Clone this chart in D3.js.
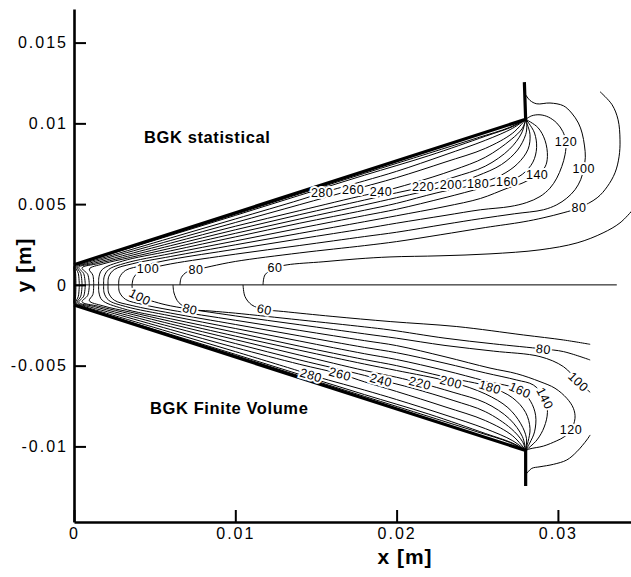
<!DOCTYPE html>
<html>
<head>
<meta charset="utf-8">
<script src="https://cdn.jsdelivr.net/npm/d3@7"></script>
<style>
  body { margin: 0; background: #fff; }
  svg { display: block; }
  text { font-family: "Liberation Sans", Arial, Helvetica, sans-serif; fill: #000; }
</style>
</head>
<body>
<div id="chart"></div>
<script>
// Оси (в метрах)
const xTicks = [0, 0.01, 0.02, 0.03];
const yTicks = [-0.01, -0.005, 0, 0.005, 0.01, 0.015];
const xMinor = d3.range(0, 0.0345, 0.002);
const yMinor = d3.range(-0.014, 0.0175, 0.001);

// Геометрия сопла (мм)
const upperWall = [[0, 1.25], [28, 10.25], [27.92, 12.55]];
const lowerWall = [[0, -1.25], [28, -10.25], [28, -12.45]];
const centerLine = [[0, 0], [33.65, 0]];

// Изолинии температуры, верх: BGK statistical (мм)
const upperLines = [
  [320, [[0.04,0],[0.03,0.7],[0.02,1.18],[0.5,1.4],[2,1.855],[6,3.12],[10,4.37],[14,5.64],[18,6.9],[22,8.15],[25,9.1],[27,9.75],[28,10.25]]],
  [300, [[0.12,0],[0.1,0.7],[0.05,1.15],[0.6,1.39],[2,1.83],[6,3.07],[10,4.3],[14,5.55],[18,6.79],[22,8.0],[25.5,9.2],[27.2,9.8],[28,10.25]]],
  [280, [[0.33,0],[0.27,0.7],[0.12,1.12],[0.8,1.38],[2,1.73],[6,2.91],[10,4.08],[14,5.26],[15.38,5.7],[18,6.44],[20,7.03],[23,8.05],[25.5,8.95],[27.2,9.7],[28,10.25]]],
  [260, [[0.5,0],[0.42,0.7],[0.2,1.1],[1.0,1.36],[2.5,1.78],[6,2.75],[10,3.86],[14,4.97],[17.3,5.89],[20,6.64],[23,7.6],[25.5,8.45],[27.2,9.4],[28,10.25]]],
  [240, [[0.7,0],[0.6,0.7],[0.3,1.08],[1.2,1.33],[3,1.8],[6,2.59],[10,3.63],[14,4.6],[18,5.55],[19.03,5.76],[21,6.3],[23.5,7.1],[25.5,7.9],[27.1,9.0],[27.8,9.7],[28,10.25]]],
  [220, [[0.95,0],[0.85,0.65],[0.5,1.05],[1.5,1.32],[3,1.69],[6,2.43],[10,3.41],[14,4.35],[18,5.25],[20,5.7],[21.64,6.07],[23.5,6.65],[25.5,7.35],[27,8.4],[27.75,9.4],[28,10.25]]],
  [200, [[1.22,0],[1.17,0.6],[0.95,0.98],[1.8,1.3],[3.5,1.7],[6,2.27],[10,3.19],[14,4.08],[18,4.95],[20,5.4],[23.37,6.2],[25,6.75],[26.5,7.45],[27.5,8.35],[28.0,9.3],[28.07,9.85],[28,10.25]]],
  [180, [[1.53,0],[1.55,0.5],[1.75,0.95],[3,1.47],[6,2.11],[10,2.97],[14,3.82],[18,4.62],[20,5.05],[22.5,5.7],[25.05,6.26],[26.5,6.8],[27.5,7.5],[28.15,8.4],[28.27,9.3],[28.1,9.95],[28,10.25]]],
  [160, [[1.84,0],[1.87,0.5],[2.15,0.95],[3.2,1.35],[6,1.94],[10,2.72],[14,3.51],[18,4.29],[20,4.68],[23,5.4],[25.3,6.0],[26.85,6.38],[27.8,6.85],[28.45,7.6],[28.68,8.5],[28.55,9.4],[28.2,10.0],[28,10.25]]],
  [140, [[2.11,0],[2.15,0.5],[2.5,0.95],[3.6,1.3],[6,1.76],[10,2.48],[14,3.19],[18,3.91],[20,4.28],[23,4.85],[25.2,5.35],[26.85,5.98],[27.84,6.32],[28.71,6.82],[29.2,7.3],[29.35,7.95],[29.2,8.95],[28.75,9.75],[28,10.25]]],
  [120, [[2.77,0],[2.82,0.45],[3.2,0.9],[4.3,1.2],[6,1.57],[10,2.21],[14,2.85],[18,3.48],[20,3.82],[23,4.3],[25.2,4.65],[27.03,4.85],[28.07,5.1],[28.89,5.47],[29.51,5.99],[29.93,6.61],[30.24,7.33],[30.44,8.05],[30.5,8.86],[30.3,9.5],[29.93,10.02],[29.41,10.39],[28.89,10.53],[28.38,10.47],[28,10.25]]],
  [100, [[3.6,0],[3.7,0.45],[4.1,0.85],[4.59,0.99],[6,1.3],[10,1.9],[14,2.44],[18,2.99],[20,3.26],[23,3.75],[25.2,4.1],[27.3,4.4],[29.1,4.65],[29.93,4.96],[30.55,5.37],[31.06,5.89],[31.41,6.51],[31.6,7.19],[31.7,7.9],[31.65,8.6],[31.5,9.4],[31.27,10.02],[30.85,10.64],[30.34,11.09],[29.51,11.26],[28.69,11.21],[28.27,11.42],[28.0,11.77]]],
  [80, [[6.57,0],[6.65,0.45],[7.0,0.8],[7.56,0.93],[8.5,1.15],[10,1.45],[14,1.98],[18,2.43],[20,2.68],[22.7,3.1],[25.5,3.55],[27.84,3.9],[29.08,4.15],[30.32,4.46],[31.31,4.77],[32.43,5.39],[33.05,6.07],[33.54,6.94],[33.79,7.93],[33.85,8.98],[33.73,10.22],[33.36,11.15],[32.61,11.96]]],
  [60, [[11.72,0],[11.84,0.62],[12.46,1.05],[13.21,1.24],[15.44,1.43],[17.55,1.61],[19.59,1.73],[22.69,1.8],[25.79,1.92],[28.89,2.17],[31.19,2.6],[32.8,3.22],[33.85,3.84],[34.6,4.6]]]
];

// Изолинии температуры, низ: BGK Finite Volume (мм)
const lowerLines = [
  [320, [[0.04,0],[0.03,-0.7],[0.02,-1.18],[0.5,-1.4],[2,-1.855],[6,-3.12],[10,-4.37],[14,-5.64],[18,-6.9],[22,-8.15],[25,-9.1],[27,-9.75],[28,-10.25]]],
  [300, [[0.12,0],[0.1,-0.7],[0.05,-1.15],[0.6,-1.39],[2,-1.83],[6,-3.07],[10,-4.3],[14,-5.55],[18,-6.79],[22,-8.0],[25.5,-9.2],[27.2,-9.8],[28,-10.25]]],
  [280, [[0.33,0],[0.27,-0.7],[0.12,-1.12],[0.8,-1.39],[2,-1.75],[6,-2.94],[10,-4.13],[14,-5.35],[14.69,-5.58],[18,-6.51],[20,-7.1],[23,-8.05],[25.5,-8.9],[27.2,-9.65],[28,-10.25]]],
  [260, [[0.5,0],[0.42,-0.7],[0.2,-1.1],[1.0,-1.37],[2.5,-1.78],[6,-2.77],[10,-3.88],[14,-4.92],[16.49,-5.51],[18,-6.0],[20,-6.6],[23,-7.55],[25.5,-8.4],[27.2,-9.35],[28,-10.25]]],
  [240, [[0.7,0],[0.6,-0.7],[0.3,-1.08],[1.2,-1.33],[3,-1.8],[6,-2.59],[10,-3.63],[14,-4.65],[18,-5.6],[19.03,-5.89],[21,-6.4],[23.5,-7.15],[25.5,-7.85],[27.1,-8.9],[27.8,-9.7],[28,-10.25]]],
  [220, [[0.95,0],[0.85,-0.65],[0.5,-1.05],[1.5,-1.32],[3,-1.68],[6,-2.42],[10,-3.39],[14,-4.35],[18,-5.3],[20,-5.72],[21.45,-6.07],[23.5,-6.65],[25.5,-7.3],[27,-8.3],[27.8,-9.4],[28,-10.25]]],
  [200, [[1.22,0],[1.17,-0.6],[0.95,-0.98],[1.8,-1.3],[3.5,-1.69],[6,-2.26],[10,-3.17],[14,-4.05],[18,-4.9],[20,-5.3],[23.37,-6.01],[25.5,-6.75],[26.9,-7.6],[27.7,-8.6],[28.05,-9.5],[28,-10.25]]],
  [180, [[1.53,0],[1.55,-0.5],[1.75,-0.95],[3,-1.46],[6,-2.1],[10,-2.94],[14,-3.8],[18,-4.62],[20,-5.0],[23,-5.7],[25.79,-6.32],[27.2,-7.0],[28.0,-7.9],[28.27,-8.9],[28.15,-9.7],[28,-10.25]]],
  [160, [[1.84,0],[1.87,-0.5],[2.15,-0.95],[3.2,-1.34],[6,-1.92],[10,-2.7],[14,-3.48],[18,-4.26],[20,-4.62],[23,-5.3],[25.5,-5.95],[27.65,-6.51],[28.3,-7.2],[28.62,-8.1],[28.55,-9.1],[28.25,-9.8],[28,-10.25]]],
  [140, [[2.11,0],[2.15,-0.5],[2.5,-0.95],[3.6,-1.28],[6,-1.75],[10,-2.45],[14,-3.16],[18,-3.87],[20,-4.2],[23,-4.85],[25.5,-5.45],[27.45,-5.89],[28.48,-6.2],[29.2,-7.02],[29.35,-7.9],[29.15,-8.8],[28.7,-9.6],[28,-10.25]]],
  [120, [[2.77,0],[2.82,-0.45],[3.2,-0.9],[4.3,-1.22],[6,-1.56],[10,-2.19],[14,-2.82],[18,-3.45],[20,-3.76],[23,-4.45],[25.79,-5.15],[27.45,-5.5],[28.89,-5.99],[29.82,-6.4],[30.55,-7.02],[30.96,-7.64],[31.06,-8.26],[30.81,-8.98],[30.4,-9.4],[29.93,-9.65],[29.1,-9.98],[28.27,-10.15],[28,-10.25]]],
  [100, [[3.6,0],[3.65,-0.35],[4.09,-0.74],[5,-1.05],[6,-1.3],[10,-1.92],[14,-2.47],[18,-3.03],[20,-3.3],[23,-3.75],[26,-4.1],[28.89,-4.44],[30.34,-5.06],[31.27,-5.99],[32.0,-6.65]]],
  [100, [[28.07,-11.67],[28.38,-11.36],[28.89,-11.26],[29.72,-11.11],[30.55,-10.84],[31.17,-10.33],[31.79,-9.6],[32.0,-9.29]]],
  [80, [[6.14,0],[6.2,-0.5],[6.5,-1.1],[7.19,-1.49],[8.5,-1.62],[10,-1.75],[14,-2.17],[18,-2.6],[19.6,-2.79],[23,-3.3],[26,-3.65],[29.1,-3.97],[30.34,-4.13],[32,-4.65]]],
  [60, [[10.48,0],[10.6,-0.72],[11.02,-1.24],[11.8,-1.52],[13,-1.65],[16,-1.95],[19.6,-2.27],[23.73,-2.58],[27.86,-3.1],[30.34,-3.41],[32,-3.68]]]
];

// Подписи изолиний: уровень, x, y (мм)
const upperLabels = [
  [280, 15.38, 5.7], [260, 17.3, 5.89], [240, 19.03, 5.76], [220, 21.64, 6.07],
  [200, 23.37, 6.2], [180, 25.05, 6.26], [160, 26.85, 6.38], [140, 28.71, 6.82],
  [120, 30.5, 8.86], [100, 31.6, 7.19], [80, 31.31, 4.77],
  [60, 12.46, 1.05], [80, 7.56, 0.93], [100, 4.59, 0.99]
];
const lowerLabels = [
  [100, 4.09, -0.74], [80, 7.19, -1.49], [60, 11.8, -1.52],
  [280, 14.69, -5.58], [260, 16.49, -5.51], [240, 19.03, -5.89], [220, 21.45, -6.07],
  [200, 23.37, -6.01], [180, 25.79, -6.32], [160, 27.65, -6.51], [140, 29.2, -7.02],
  [120, 30.81, -8.98], [100, 31.27, -5.99], [80, 29.1, -3.97]
];

const width = 631, height = 577;

let svg = d3.select('#chart')
            .append('svg')
            .attr('width', width)
            .attr('height', height);

let x = d3.scaleLinear().domain([0, 0.0345]).range([74, 630.5]);
let y = d3.scaleLinear().domain([-0.01468, 0.01708]).range([522, 9]);

let px = d => x(d[0] / 1000);
let py = d => y(d[1] / 1000);

let contour = d3.line().x(px).y(py).curve(d3.curveCatmullRom.alpha(0.5));
let straight = d3.line().x(px).y(py);

// Изолинии
let gC = svg.append('g')
            .attr('fill', 'none')
            .attr('stroke', '#000')
            .attr('stroke-width', 1)
            .attr('stroke-linejoin', 'round');

upperLines.concat(lowerLines).forEach(([lev, pts]) => {
  gC.append('path').attr('d', contour(pts));
});

// Ось симметрии
svg.append('path')
   .attr('d', straight(centerLine))
   .attr('fill', 'none')
   .attr('stroke', '#000')
   .attr('stroke-width', 1);

// Стенки сопла
[upperWall, lowerWall].forEach(w => {
  svg.append('path')
     .attr('d', straight(w))
     .attr('fill', 'none')
     .attr('stroke', '#000')
     .attr('stroke-width', 3.2)
     .attr('stroke-linejoin', 'miter');
});

// Угол поворота подписи вдоль линии
function alongAngle(lines, lev, lx, ly) {
  let best = null, bd = Infinity;
  lines.filter(l => l[0] === lev).forEach(([_, pts]) => {
    pts.forEach((p, i) => {
      let d = (p[0] - lx) ** 2 + (p[1] - ly) ** 2;
      if (d < bd) { bd = d; best = [pts, i]; }
    });
  });
  let [pts, i] = best;
  let a = pts[Math.max(i - 1, 0)], b = pts[Math.min(i + 1, pts.length - 1)];
  let dx = px(b) - px(a), dy = py(b) - py(a);
  if (dx < 0) { dx = -dx; dy = -dy; }
  let ang = Math.atan2(dy, dx) * 180 / Math.PI;
  if (ang < -30 || ang > 70) ang = 0;
  return ang;
}

let gL = svg.append('g')
            .attr('font-size', 12.5)
            .attr('letter-spacing', 0.5)
            .attr('text-anchor', 'middle');

function drawLabels(labels, lines, aligned) {
  labels.forEach(([lev, lx, ly]) => {
    let ang = aligned ? alongAngle(lines, lev, lx, ly) : 0;
    gL.append('text')
      .attr('transform', `translate(${px([lx, ly])},${py([lx, ly])}) rotate(${ang})`)
      .attr('dy', '0.36em')
      .attr('stroke', '#fff')
      .attr('stroke-width', 4)
      .attr('paint-order', 'stroke')
      .text(lev);
  });
}
drawLabels(upperLabels, upperLines, false);
drawLabels(lowerLabels, lowerLines, true);

// Оси
let fmt = d => String(d);

let gx = svg.append('g').attr('transform', 'translate(0,522)');
gx.call(d3.axisBottom(x).tickValues(xMinor).tickSize(-7).tickSizeOuter(0).tickFormat(''));
gx.call(d3.axisBottom(x).tickValues(xTicks).tickSize(-12).tickSizeOuter(0).tickPadding(6).tickFormat(fmt));

let gy = svg.append('g').attr('transform', 'translate(74,0)');
gy.call(d3.axisLeft(y).tickValues(yMinor).tickSize(-7).tickSizeOuter(0).tickFormat(''));
gy.call(d3.axisLeft(y).tickValues(yTicks).tickSize(-12).tickSizeOuter(0).tickPadding(6).tickFormat(fmt));

[gx, gy].forEach(g => {
  g.selectAll('.domain').attr('stroke', '#000').attr('stroke-width', 2.6);
  g.selectAll('.tick line').attr('stroke', '#000').attr('stroke-width', 2);
  g.selectAll('.tick text')
   .attr('font-size', 16)
   .attr('letter-spacing', 2)
   .attr('font-family', '"Liberation Sans", Arial, Helvetica, sans-serif')
   .attr('fill', '#000');
});

// Подписи осей
svg.append('text')
   .attr('x', 405).attr('y', 564)
   .attr('text-anchor', 'middle')
   .attr('font-size', 21).attr('font-weight', 'bold')
   .attr('letter-spacing', 1)
   .text('x [m]');

svg.append('text')
   .attr('transform', 'translate(31,265) rotate(-90)')
   .attr('text-anchor', 'middle')
   .attr('font-size', 21).attr('font-weight', 'bold')
   .attr('letter-spacing', 1)
   .text('y [m]');

// Названия методов
svg.append('text')
   .attr('x', 144).attr('y', 143)
   .attr('font-size', 16.5).attr('font-weight', 'bold')
   .attr('letter-spacing', 0.6)
   .text('BGK statistical');

svg.append('text')
   .attr('x', 150).attr('y', 414)
   .attr('font-size', 16.5).attr('font-weight', 'bold')
   .attr('letter-spacing', 0.6)
   .text('BGK Finite Volume');
</script>
</body>
</html>
